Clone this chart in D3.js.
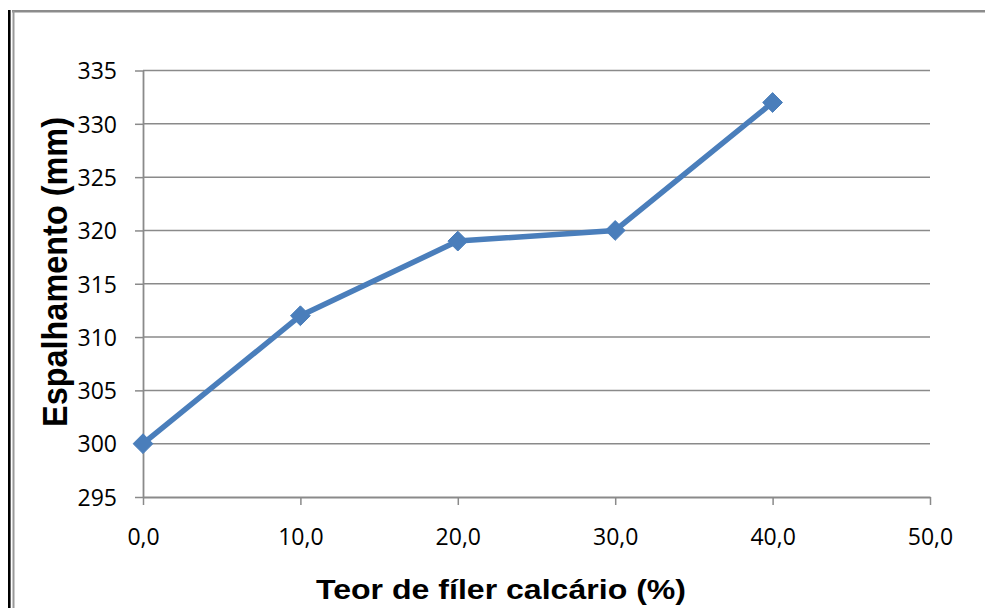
<!DOCTYPE html>
<html>
<head>
<meta charset="utf-8">
<script src="https://cdn.jsdelivr.net/npm/d3@7"></script>
<style>
  body { margin: 0; background: #fff; }
  svg { display: block; }
</style>
</head>
<body>
<svg id="chart" width="985" height="608"></svg>
<script>
// data
const teor = [0, 10, 20, 30, 40];
const espalhamento = [300, 312, 319, 320, 332];
const xTicks = [0, 10, 20, 30, 40, 50];
const yTicks = [295, 300, 305, 310, 315, 320, 325, 330, 335];

const margin = {top: 70.5, right: 55, bottom: 111, left: 143};
const W = 985, H = 608;
const width = W - margin.left - margin.right;
const height = H - margin.top - margin.bottom;

const svg = d3.select('#chart');

// frame lines round the picture
svg.append('line').attr('x1', 12).attr('x2', W).attr('y1', 11.3).attr('y2', 11.3)
  .attr('stroke', '#8c8c8c').attr('stroke-width', 2.6);
svg.append('line').attr('x1', 13.5).attr('x2', 13.5).attr('y1', 11).attr('y2', H)
  .attr('stroke', '#9a9a9a').attr('stroke-width', 2);
svg.append('line').attr('x1', 9.3).attr('x2', 9.3).attr('y1', 10).attr('y2', H)
  .attr('stroke', '#000').attr('stroke-width', 2.6);

const x = d3.scaleLinear().domain([0, 50]).range([0, width]);
const y = d3.scaleLinear().domain([295, 335]).range([height, 0]);

const g = svg.append('g').attr('transform', 'translate(' + margin.left + ',' + margin.top + ')');

// gridlines
g.append('g').selectAll('line').data(yTicks.slice(1)).join('line')
  .attr('x1', 0).attr('x2', width)
  .attr('y1', d => y(d)).attr('y2', d => y(d))
  .attr('stroke', '#8a8a8a').attr('stroke-width', 1.5);

// axes
const yAxis = d3.axisLeft(y).tickValues(yTicks).tickSize(8).tickSizeOuter(0).tickPadding(18)
  .tickFormat(d3.format('d'));
const xAxis = d3.axisBottom(x).tickValues(xTicks).tickSize(8).tickSizeOuter(0).tickPadding(24)
  .tickFormat(d => d.toFixed(1).replace('.', ','));

const ya = g.append('g').call(yAxis);
const xa = g.append('g').attr('transform', 'translate(0,' + height + ')').call(xAxis);

[ya, xa].forEach(a => {
  a.select('.domain').attr('stroke', '#8a8a8a').attr('stroke-width', 1.8);
  a.selectAll('.tick line').attr('stroke', '#8a8a8a').attr('stroke-width', 1.5);
  a.selectAll('.tick text').attr('fill', '#000')
    .style('font-family', '"Open Sans", Lato, sans-serif').style('font-size', '23px');
});
ya.selectAll('.tick text').attr('dy', '0.36em');
xa.selectAll('.tick text').attr('dy', '0.71em');

// series line
const pts = teor.map((t, i) => ({t: t, v: espalhamento[i]}));
g.append('path').datum(pts)
  .attr('fill', 'none').attr('stroke', '#4a7ebb').attr('stroke-width', 5.5)
  .attr('stroke-linejoin', 'round')
  .attr('d', d3.line().x(d => x(d.t)).y(d => y(d.v)));

// diamond markers
g.append('g').selectAll('path').data(pts).join('path')
  .attr('transform', d => 'translate(' + x(d.t) + ',' + y(d.v) + ')')
  .attr('d', d3.symbol().type(d3.symbolDiamond2).size(250))
  .attr('fill', '#4a7ebb').attr('stroke', '#4a7ebb').attr('stroke-width', 1);

// axis titles
svg.append('text')
  .attr('x', 501).attr('y', 599)
  .attr('text-anchor', 'middle')
  .attr('textLength', 370).attr('lengthAdjust', 'spacingAndGlyphs')
  .style('font-family', '"Liberation Sans", Arial, sans-serif')
  .style('font-weight', 'bold').style('font-size', '28px')
  .text('Teor de fíler calcário (%)');

svg.append('text')
  .attr('transform', 'translate(67,272) scale(1.15,1) rotate(-90)')
  .attr('text-anchor', 'middle')
  .attr('textLength', 310).attr('lengthAdjust', 'spacingAndGlyphs')
  .style('font-family', '"Liberation Sans", Arial, sans-serif')
  .style('font-weight', 'bold').style('font-size', '30px')
  .text('Espalhamento (mm)');
</script>
</body>
</html>
